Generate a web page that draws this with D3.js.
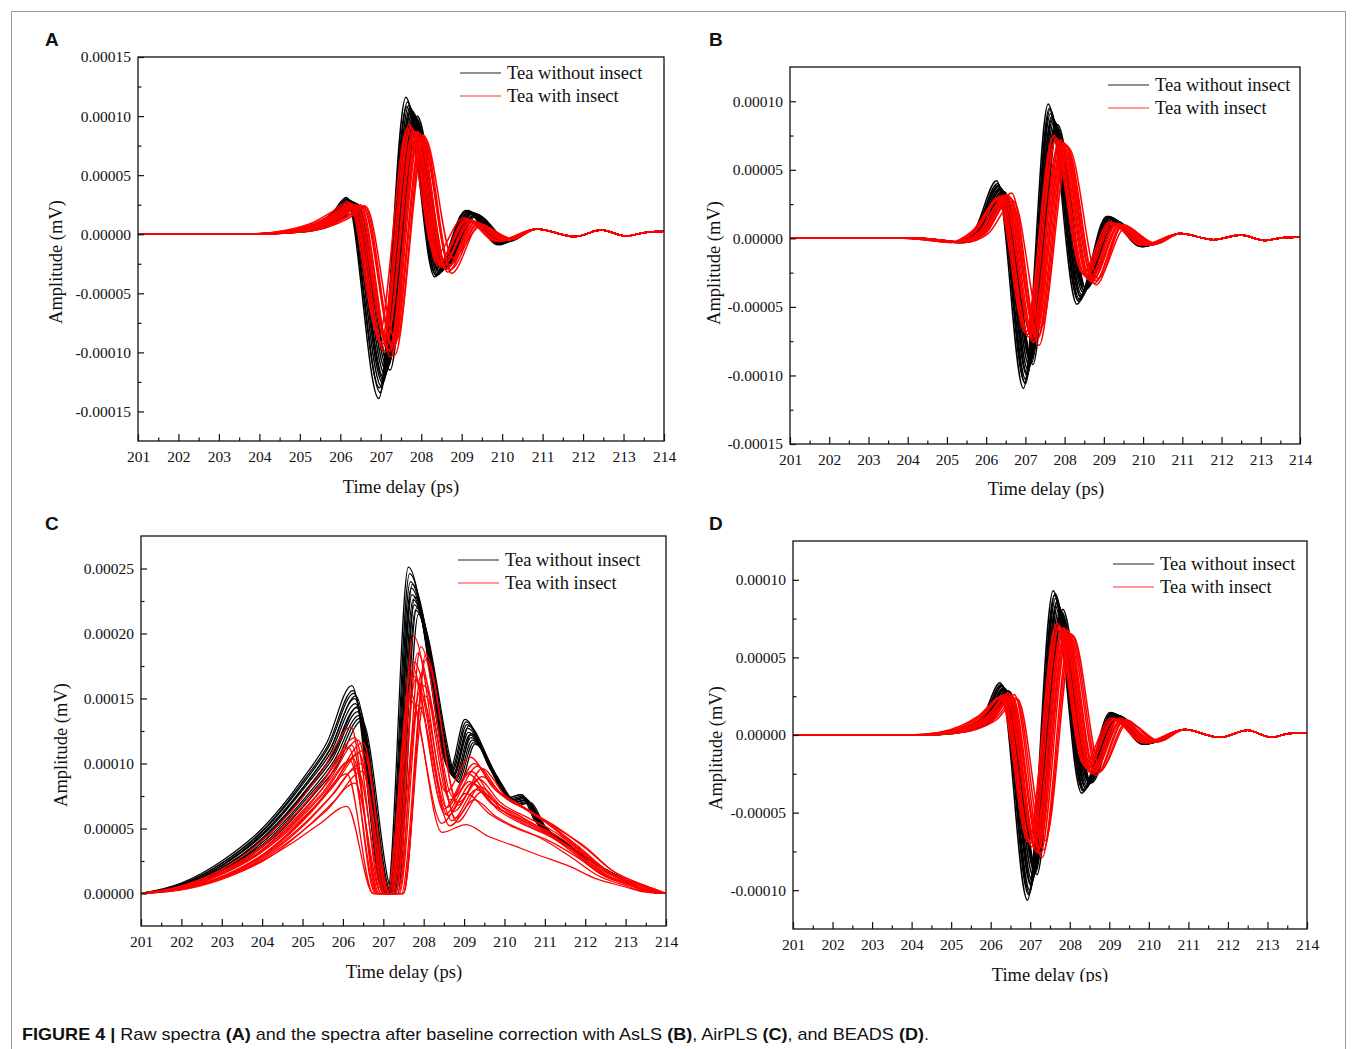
<!DOCTYPE html>
<html>
<head>
<meta charset="utf-8">
<script src="https://cdn.jsdelivr.net/npm/d3@7/dist/d3.min.js"></script>
<style>
body{margin:0;background:#fff;}
svg text{font-family:"Liberation Serif","Times New Roman",serif;fill:#111;}
</style>
</head>
<body>
<svg id="fig" width="1357" height="1049"></svg>
<script>
// amplitudes are in units of 1e-5 mV, times in ps
var timeTicks = d3.range(201, 215);
var legendLabels = ["Tea without insect", "Tea with insect"];

/* A : raw spectra */
var tBlackA = [201, 204, 204.8, 205.4, 205.8, 206.15, 206.95, 207.62, 208.33, 209.1, 209.9];
var shiftBlackA = [0, 0.04, 0.07, 0.1, 0.13, 0.16, 0.19, 0.22, 0.25, 0.28, 0.02, 0.12];
var blackA = [
  [0, 0.05, 0.3, 0.9, 1.8, 3.1, -13.9, 11.6, -3.6, 2.0, -0.9],
  [0, 0.05, 0.3, 0.8, 1.7, 3.0, -13.4, 11.2, -3.5, 2.0, -0.8],
  [0, 0.05, 0.25, 0.8, 1.7, 2.9, -12.9, 10.9, -3.4, 1.9, -0.8],
  [0, 0.05, 0.25, 0.75, 1.6, 2.8, -12.6, 10.7, -3.3, 1.9, -0.7],
  [0, 0.05, 0.25, 0.75, 1.6, 2.8, -12.2, 10.5, -3.2, 1.8, -0.7],
  [0, 0.05, 0.2, 0.7, 1.5, 2.7, -11.9, 10.4, -3.1, 1.8, -0.7],
  [0, 0.05, 0.2, 0.7, 1.5, 2.7, -11.6, 10.2, -3.0, 1.8, -0.6],
  [0, 0.05, 0.2, 0.65, 1.4, 2.6, -11.3, 10.0, -2.9, 1.7, -0.6],
  [0, 0.05, 0.2, 0.65, 1.4, 2.6, -11.0, 9.9, -2.8, 1.7, -0.6],
  [0, 0.05, 0.2, 0.6, 1.4, 2.5, -11.5, 10.0, -2.8, 1.6, -0.6],
  [0, 0.05, 0.3, 0.85, 1.7, 3.0, -13.0, 10.8, -3.4, 1.9, -0.8],
  [0, 0.05, 0.25, 0.75, 1.6, 2.8, -12.4, 10.6, -3.2, 1.8, -0.7]
];
var tRedA = [201, 204, 204.8, 205.4, 205.85, 206.3, 207.05, 207.75, 208.45, 209.15, 209.95];
var shiftRedA = [-0.1, -0.05, 0, 0.05, 0.1, 0.15, 0.2, 0.25, 0.3, 0.33, -0.02, 0.08, 0.18, 0.27];
var redA = [
  [0, 0.05, 0.35, 0.95, 1.8, 2.7, -8.6, 8.9, -1.8, 1.4, -0.6],
  [0, 0.05, 0.35, 0.9, 1.7, 2.6, -9.2, 9.3, -2.6, 1.3, -0.6],
  [0, 0.05, 0.3, 0.85, 1.6, 2.5, -9.6, 9.0, -2.4, 1.2, -0.6],
  [0, 0.05, 0.3, 0.8, 1.6, 2.5, -10.0, 8.8, -2.8, 1.2, -0.5],
  [0, 0.05, 0.3, 0.8, 1.5, 2.4, -8.8, 8.6, -2.2, 1.0, -0.5],
  [0, 0.05, 0.3, 0.8, 1.5, 2.4, -9.8, 8.7, -3.0, 1.1, -0.5],
  [0, 0.05, 0.25, 0.75, 1.5, 2.5, -10.4, 8.5, -3.2, 1.0, -0.5],
  [0, 0.05, 0.25, 0.7, 1.4, 2.3, -9.4, 8.3, -2.6, 0.9, -0.5],
  [0, 0.05, 0.25, 0.7, 1.4, 2.4, -10.2, 8.4, -3.3, 0.8, -0.4],
  [0, 0.05, 0.2, 0.65, 1.3, 2.3, -9.0, 8.2, -2.0, 0.7, -0.4],
  [0, 0.05, 0.3, 0.85, 1.65, 2.6, -9.4, 9.1, -2.5, 1.2, -0.6],
  [0, 0.05, 0.3, 0.8, 1.55, 2.5, -9.1, 8.7, -2.7, 1.1, -0.5],
  [0, 0.05, 0.25, 0.75, 1.45, 2.4, -9.9, 8.6, -2.9, 1.0, -0.5],
  [0, 0.05, 0.25, 0.7, 1.4, 2.35, -9.6, 8.4, -3.0, 0.9, -0.45]
];
var tailTimeA = [210.85, 211.8, 212.45, 213.05, 213.55, 214];
var tailA = [0.45, -0.2, 0.35, -0.15, 0.15, 0.25];

/* B : AsLS */
var tBlackB = [201, 204, 204.7, 205.2, 205.7, 206.27, 206.95, 207.58, 208.31, 209.07, 209.95];
var shiftBlackB = [0, 0.03, 0.05, 0.06, 0.09, 0.12, 0.15, 0.18, 0.21, 0.24, 0.1, 0.2];
var blackB = [
  [0, 0, -0.15, -0.3, 0.6, 4.2, -10.95, 9.8, -4.8, 1.6, -0.6],
  [0, 0, -0.15, -0.3, 0.6, 4.0, -10.5, 9.5, -4.5, 1.6, -0.6],
  [0, 0, -0.15, -0.3, 0.6, 3.9, -10.6, 9.4, -4.6, 1.6, -0.6],
  [0, 0, -0.15, -0.3, 0.5, 3.8, -10.3, 9.1, -4.4, 1.5, -0.6],
  [0, 0, -0.15, -0.3, 0.5, 3.7, -10.0, 8.9, -4.2, 1.5, -0.5],
  [0, 0, -0.15, -0.3, 0.5, 3.6, -9.6, 8.7, -4.1, 1.4, -0.5],
  [0, 0, -0.15, -0.3, 0.4, 3.5, -9.3, 8.6, -3.9, 1.4, -0.5],
  [0, 0, -0.15, -0.3, 0.4, 3.4, -9.0, 8.4, -3.8, 1.3, -0.5],
  [0, 0, -0.15, -0.3, 0.4, 3.3, -8.8, 8.2, -3.6, 1.3, -0.5],
  [0, 0, -0.15, -0.3, 0.4, 3.2, -9.2, 8.3, -3.7, 1.2, -0.5],
  [0, 0, -0.15, -0.3, 0.5, 3.7, -9.9, 8.8, -4.3, 1.5, -0.5],
  [0, 0, -0.15, -0.3, 0.4, 3.4, -9.1, 8.3, -3.8, 1.3, -0.5]
];
var tRedB = [201, 204, 204.7, 205.2, 205.8, 206.45, 207.15, 207.85, 208.6, 209.3, 210.1];
var shiftRedB = [-0.15, -0.12, -0.06, 0, 0.05, 0.1, 0.12, 0.15, 0.2, 0.25, -0.09, 0.02, 0.08, 0.18];
var redB = [
  [0, 0, -0.15, -0.3, 0.55, 2.8, -6.9, 7.4, -2.5, 1.2, -0.5],
  [0, 0, -0.15, -0.3, 0.5, 3.0, -6.8, 7.5, -2.6, 1.1, -0.5],
  [0, 0, -0.15, -0.3, 0.5, 3.1, -7.2, 7.3, -2.8, 1.0, -0.5],
  [0, 0, -0.15, -0.3, 0.45, 2.9, -7.0, 7.0, -3.0, 1.0, -0.5],
  [0, 0, -0.15, -0.3, 0.45, 3.2, -7.6, 7.2, -3.1, 1.1, -0.5],
  [0, 0, -0.15, -0.3, 0.4, 2.8, -6.6, 6.8, -2.7, 0.9, -0.5],
  [0, 0, -0.15, -0.3, 0.4, 3.1, -7.1, 7.0, -3.0, 1.0, -0.4],
  [0, 0, -0.15, -0.3, 0.4, 3.0, -7.4, 6.9, -3.3, 0.9, -0.4],
  [0, 0, -0.15, -0.3, 0.4, 3.3, -7.8, 6.8, -3.4, 1.0, -0.4],
  [0, 0, -0.15, -0.3, 0.35, 2.7, -6.5, 6.6, -2.9, 0.8, -0.4],
  [0, 0, -0.15, -0.3, 0.5, 2.9, -7.0, 7.2, -2.7, 1.1, -0.5],
  [0, 0, -0.15, -0.3, 0.45, 3.0, -7.3, 7.1, -2.9, 1.0, -0.5],
  [0, 0, -0.15, -0.3, 0.4, 3.1, -7.5, 7.0, -3.2, 1.0, -0.45],
  [0, 0, -0.15, -0.3, 0.4, 2.9, -7.2, 6.7, -3.1, 0.9, -0.4]
];
var tailTimeB = [210.95, 211.8, 212.5, 213.1, 213.55, 214];
var tailB = [0.35, -0.1, 0.25, -0.15, 0.05, 0.1];

/* C : AirPLS */
var tBlackC = [201, 202, 203, 204, 205, 205.6, 206.22, 207.0, 207.1, 207.62, 208.65, 209.02, 209.64, 210.1, 210.4, 210.75];
var shiftBlackC = [0, 0.03, 0.05, 0.07, 0.09, 0.12, 0.15, 0.18, 0.21, 0.25, 0.1, 0.16];
var blackC = [
  [0, 0.8, 2.5, 5.0, 8.8, 11.6, 16.0, 0, 0, 25.1, 9.5, 13.4, 9.6, 7.4, 7.6, 5.6],
  [0, 0.75, 2.4, 4.9, 8.7, 11.4, 15.6, 0, 0, 24.6, 9.4, 13.2, 9.5, 7.4, 7.6, 5.6],
  [0, 0.75, 2.4, 4.9, 8.6, 11.3, 15.4, 0, 0, 24.0, 9.3, 13.0, 9.4, 7.3, 7.5, 5.6],
  [0, 0.7, 2.3, 4.8, 8.4, 11.0, 15.0, 0, 0, 23.5, 9.1, 12.7, 9.3, 7.2, 7.4, 5.5],
  [0, 0.7, 2.3, 4.7, 8.3, 10.8, 14.6, 0, 0, 23.0, 9.0, 12.4, 9.2, 7.1, 7.3, 5.5],
  [0, 0.7, 2.2, 4.6, 8.1, 10.6, 14.3, 0, 0, 22.6, 8.9, 12.2, 9.0, 7.0, 7.2, 5.4],
  [0, 0.65, 2.2, 4.5, 8.0, 10.4, 14.0, 0, 0, 22.2, 8.8, 12.0, 8.9, 7.0, 7.2, 5.4],
  [0, 0.65, 2.1, 4.4, 7.8, 10.2, 13.7, 0, 0, 21.8, 8.7, 11.8, 8.8, 6.9, 7.1, 5.3],
  [0, 0.6, 2.1, 4.3, 7.7, 10.0, 13.5, 0, 0, 22.0, 8.6, 11.6, 8.7, 6.9, 7.0, 5.3],
  [0, 0.6, 2.0, 4.2, 7.5, 9.8, 13.3, 0, 0, 21.5, 8.5, 11.5, 8.6, 6.8, 7.0, 5.2],
  [0, 0.72, 2.35, 4.85, 8.5, 11.2, 15.2, 0, 0, 23.8, 9.2, 12.9, 9.3, 7.2, 7.4, 5.5],
  [0, 0.68, 2.25, 4.6, 8.2, 10.7, 14.4, 0, 0, 22.8, 8.9, 12.3, 9.1, 7.0, 7.2, 5.4]
];
var tailTimeC = [211.5, 212.3, 213.0, 213.5, 214];
var tailBlackC = [3.9, 2.2, 1.0, 0.2, 0];
var tRedC = [201, 202, 203, 204, 205, 205.6, 206.3, 206.95, 207.3, 207.85, 208.65, 209.25, 209.8, 210.5, 211.0, 211.8, 212.5, 213.2, 213.6, 214];
var shiftRedC = [-0.1, 0, 0.2, -0.15, 0.1, -0.05, 0.15, 0.05, -0.2, 0, -0.2, 0.2, 0.08, -0.12, 0.18, -0.08];
var redC = [
  [0, 0.5, 1.7, 3.8, 7.0, 9.5, 12.8, 0, 0, 19.8, 7.8, 10.5, 8.2, 6.8, 5.8, 3.7, 1.8, 0.8, 0.3, 0],
  [0, 0.5, 1.6, 3.6, 6.7, 9.0, 12.0, 0, 0, 18.5, 7.2, 10.0, 7.9, 6.5, 5.5, 3.6, 1.7, 0.8, 0.3, 0],
  [0, 0.45, 1.5, 3.4, 6.3, 8.6, 11.6, 0, 0, 18.4, 6.8, 9.6, 7.6, 6.2, 5.3, 3.5, 1.7, 0.7, 0.25, 0],
  [0, 0.45, 1.5, 3.3, 6.2, 8.4, 11.2, 0, 0, 17.5, 6.5, 9.2, 7.3, 6.0, 5.1, 3.4, 1.6, 0.7, 0.25, 0],
  [0, 0.45, 1.45, 3.2, 6.0, 8.1, 10.8, 0, 0, 17.0, 6.3, 8.8, 7.0, 5.8, 5.0, 3.3, 1.6, 0.7, 0.25, 0],
  [0, 0.4, 1.4, 3.1, 5.8, 7.8, 10.4, 0, 0, 16.5, 6.0, 8.5, 6.8, 5.6, 4.8, 3.2, 1.5, 0.65, 0.2, 0],
  [0, 0.4, 1.35, 3.0, 5.6, 7.6, 10.0, 0, 0, 16.0, 5.8, 8.2, 6.6, 5.4, 4.7, 3.1, 1.5, 0.65, 0.2, 0],
  [0, 0.4, 1.3, 2.9, 5.4, 7.3, 9.6, 0, 0, 15.5, 5.6, 8.0, 6.4, 5.2, 4.5, 3.0, 1.4, 0.6, 0.2, 0],
  [0, 0.4, 1.3, 2.8, 5.2, 7.0, 9.2, 0, 0, 15.0, 5.4, 7.7, 6.2, 5.0, 4.4, 2.9, 1.4, 0.6, 0.2, 0],
  [0, 0.35, 1.2, 2.6, 4.8, 6.4, 8.5, 0, 0, 14.5, 5.2, 7.2, 5.9, 4.8, 4.2, 2.8, 1.3, 0.6, 0.2, 0],
  [0, 0.3, 1.0, 2.2, 4.0, 5.3, 6.7, 0, 0, 15.5, 4.7, 5.3, 4.4, 3.6, 3.0, 2.1, 1.1, 0.5, 0.15, 0],
  [0, 0.45, 1.5, 3.3, 6.2, 8.4, 11.0, 0, 0, 18.0, 7.0, 9.0, 7.4, 6.2, 5.2, 3.6, 1.7, 0.7, 0.25, 0],
  [0, 0.48, 1.6, 3.5, 6.5, 8.8, 11.8, 0, 0, 19.0, 7.4, 9.8, 7.8, 6.4, 5.4, 3.5, 1.7, 0.75, 0.3, 0],
  [0, 0.42, 1.4, 3.1, 5.7, 7.7, 10.2, 0, 0, 16.8, 6.1, 8.6, 6.9, 5.7, 4.9, 3.2, 1.5, 0.65, 0.2, 0],
  [0, 0.38, 1.3, 2.8, 5.3, 7.1, 9.4, 0, 0, 15.2, 5.5, 7.8, 6.3, 5.1, 4.4, 2.9, 1.4, 0.6, 0.2, 0],
  [0, 0.44, 1.45, 3.2, 6.1, 8.2, 11.4, 0, 0, 17.8, 6.6, 9.4, 7.2, 5.9, 5.0, 3.3, 1.6, 0.7, 0.25, 0]
];

/* D : BEADS */
var tBlackD = [201, 204, 204.8, 205.4, 205.8, 206.24, 206.93, 207.58, 208.3, 209.02, 209.85];
var shiftBlackD = [0, 0.03, 0.05, 0.06, 0.09, 0.12, 0.15, 0.18, 0.21, 0.24, 0.1, 0.2];
var blackD = [
  [0, 0, 0.1, 0.5, 1.2, 3.36, -10.65, 9.3, -3.75, 1.45, -0.6],
  [0, 0, 0.1, 0.5, 1.2, 3.25, -10.3, 9.0, -3.6, 1.4, -0.6],
  [0, 0, 0.1, 0.5, 1.15, 3.2, -10.2, 9.1, -3.6, 1.4, -0.6],
  [0, 0, 0.1, 0.45, 1.1, 3.15, -10.0, 8.8, -3.5, 1.4, -0.6],
  [0, 0, 0.1, 0.45, 1.1, 3.05, -9.7, 8.6, -3.4, 1.35, -0.55],
  [0, 0, 0.1, 0.45, 1.0, 3.0, -9.4, 8.4, -3.3, 1.3, -0.55],
  [0, 0, 0.1, 0.4, 1.0, 2.9, -9.1, 8.2, -3.2, 1.3, -0.5],
  [0, 0, 0.1, 0.4, 1.0, 2.85, -8.8, 8.0, -3.1, 1.25, -0.5],
  [0, 0, 0.1, 0.4, 0.9, 2.8, -8.6, 7.9, -3.0, 1.2, -0.5],
  [0, 0, 0.1, 0.4, 0.9, 2.8, -9.0, 8.1, -3.1, 1.2, -0.5],
  [0, 0, 0.1, 0.45, 1.05, 3.05, -9.6, 8.5, -3.4, 1.35, -0.55],
  [0, 0, 0.1, 0.4, 0.95, 2.85, -8.9, 8.0, -3.1, 1.25, -0.5]
];
var tRedD = [201, 204, 204.8, 205.4, 205.85, 206.4, 207.1, 207.8, 208.5, 209.2, 210.0];
var shiftRedD = [-0.15, -0.12, -0.06, 0, 0.05, 0.1, 0.12, 0.15, 0.2, 0.28, -0.09, 0.02, 0.08, 0.24];
var redD = [
  [0, 0, 0.15, 0.6, 1.25, 2.4, -6.9, 7.1, -1.9, 1.1, -0.5],
  [0, 0, 0.15, 0.55, 1.2, 2.5, -6.8, 7.2, -2.0, 1.0, -0.5],
  [0, 0, 0.15, 0.5, 1.15, 2.6, -7.2, 7.0, -2.2, 1.0, -0.5],
  [0, 0, 0.12, 0.5, 1.1, 2.4, -7.0, 6.8, -2.4, 1.0, -0.5],
  [0, 0, 0.12, 0.5, 1.1, 2.7, -7.5, 6.9, -2.5, 1.1, -0.5],
  [0, 0, 0.12, 0.45, 1.0, 2.3, -6.6, 6.6, -2.1, 0.9, -0.45],
  [0, 0, 0.12, 0.45, 1.05, 2.5, -7.3, 6.8, -2.3, 0.95, -0.45],
  [0, 0, 0.12, 0.45, 1.0, 2.5, -7.7, 6.7, -2.6, 0.9, -0.45],
  [0, 0, 0.12, 0.45, 1.0, 2.6, -7.9, 6.5, -2.4, 1.0, -0.45],
  [0, 0, 0.1, 0.4, 0.95, 2.3, -6.8, 6.4, -2.2, 0.8, -0.4],
  [0, 0, 0.15, 0.55, 1.2, 2.5, -7.0, 7.0, -2.1, 1.0, -0.5],
  [0, 0, 0.12, 0.5, 1.1, 2.5, -7.2, 6.9, -2.3, 1.0, -0.5],
  [0, 0, 0.12, 0.45, 1.05, 2.6, -7.6, 6.7, -2.5, 0.95, -0.45],
  [0, 0, 0.1, 0.45, 1.0, 2.4, -7.4, 6.5, -2.4, 0.85, -0.4]
];
var tailTimeD = [210.9, 211.8, 212.5, 213.1, 213.55, 214];
var tailD = [0.35, -0.15, 0.3, -0.15, 0.1, 0.15];

var svg = d3.select("#fig");

// figure frame
svg.append("rect").attr("x", 11.5).attr("y", 11.5).attr("width", 1334).attr("height", 1100)
  .attr("fill", "none").attr("stroke", "#9a9a9a").attr("stroke-width", 1);

var panels = [
  {id: "A", box: [138, 57, 664, 441], yDomain: [-17.5, 15], yTicks: [-15, -10, -5, 0, 5, 10, 15],
   letter: [45, 46], yTitle: [62, 262], xTitle: [401, 493], legend: [460, 73], lw: 1.5,
   black: [tBlackA, shiftBlackA, blackA, tailTimeA, tailA], red: [tRedA, shiftRedA, redA, tailTimeA, tailA]},
  {id: "B", box: [790, 67, 1300, 444], yDomain: [-15, 12.5], yTicks: [-15, -10, -5, 0, 5, 10],
   letter: [709, 46], yTitle: [720, 263], xTitle: [1046, 495], legend: [1108, 85], lw: 1.5,
   black: [tBlackB, shiftBlackB, blackB, tailTimeB, tailB], red: [tRedB, shiftRedB, redB, tailTimeB, tailB]},
  {id: "C", box: [141, 536, 666, 926], yDomain: [-2.5, 27.5], yTicks: [0, 5, 10, 15, 20, 25],
   letter: [45, 530], yTitle: [67, 745], xTitle: [404, 978], legend: [458, 560], lw: 1.25,
   black: [tBlackC, shiftBlackC, blackC, tailTimeC, tailBlackC], red: [tRedC, shiftRedC, redC, null, null]},
  {id: "D", box: [793, 541, 1307, 929], yDomain: [-12.5, 12.5], yTicks: [-10, -5, 0, 5, 10],
   letter: [709, 530], yTitle: [722, 748], xTitle: [1050, 981], legend: [1113, 564], lw: 1.5,
   black: [tBlackD, shiftBlackD, blackD, tailTimeD, tailD], red: [tRedD, shiftRedD, redD, tailTimeD, tailD]}
];

function curvePoints(times, vals, shift, tailTimes, tailVals){
  var pts = times.map(function(t, i){
    return [(t === 201 || t === 214) ? t : t + shift, vals[i]];
  });
  if(tailTimes) tailTimes.forEach(function(t, i){ pts.push([t, tailVals[i]]); });
  return pts;
}

function ampLabel(d){
  return (d * 1e-5).toFixed(5);
}

panels.forEach(function(p){
  var x0 = p.box[0], y0 = p.box[1], x1 = p.box[2], y1 = p.box[3];
  var x = d3.scaleLinear().domain([201, 214]).range([x0, x1]);
  var y = d3.scaleLinear().domain(p.yDomain).range([y1, y0]);
  var g = svg.append("g");

  svg.append("clipPath").attr("id", "clip" + p.id)
    .append("rect").attr("x", x0).attr("y", y0).attr("width", x1 - x0).attr("height", y1 - y0);

  var line = d3.line()
    .x(function(d){ return x(d[0]); })
    .y(function(d){ return y(d[1]); })
    .curve(d3.curveMonotoneX);

  var plot = g.append("g").attr("clip-path", "url(#clip" + p.id + ")");
  [["#000", p.black], ["#ff0000", p.red]].forEach(function(grp){
    var s = grp[1];
    plot.append("g").selectAll("path")
      .data(s[2])
      .enter().append("path")
      .attr("d", function(v, i){ return line(curvePoints(s[0], v, s[1][i], s[3], s[4])); })
      .attr("fill", "none")
      .attr("stroke", grp[0])
      .attr("stroke-width", p.lw);
  });

  // minor ticks
  var minorY = [];
  for(var k = 0; k < p.yTicks.length - 1; k++) minorY.push((p.yTicks[k] + p.yTicks[k + 1]) / 2);
  var minorX = timeTicks.slice(0, -1).map(function(t){ return t + 0.5; });

  g.append("g").attr("transform", "translate(" + x0 + ",0)")
    .call(d3.axisLeft(y).tickValues(p.yTicks).tickSize(-6).tickSizeOuter(0).tickPadding(7).tickFormat(ampLabel));
  g.append("g").attr("transform", "translate(" + x0 + ",0)")
    .call(d3.axisLeft(y).tickValues(minorY).tickSize(-3.5).tickSizeOuter(0).tickFormat(""));
  g.append("g").attr("transform", "translate(0," + y1 + ")")
    .call(d3.axisBottom(x).tickValues(timeTicks).tickSize(-7).tickSizeOuter(0).tickPadding(10).tickFormat(d3.format("d")));
  g.append("g").attr("transform", "translate(0," + y1 + ")")
    .call(d3.axisBottom(x).tickValues(minorX).tickSize(-3.5).tickSizeOuter(0).tickFormat(""));

  g.selectAll(".domain").remove();
  g.selectAll(".tick line").attr("stroke", "#111").attr("stroke-width", 1.2);
  g.selectAll(".tick text").style("font-size", "15.5px").style("font-family", "'Liberation Serif','Times New Roman',serif").attr("fill", "#111");

  g.append("rect").attr("x", x0).attr("y", y0).attr("width", x1 - x0).attr("height", y1 - y0)
    .attr("fill", "none").attr("stroke", "#111").attr("stroke-width", 1.3);

  // titles
  var xt = g.append("text").attr("x", p.xTitle[0]).attr("y", p.xTitle[1])
    .attr("text-anchor", "middle").style("font-size", "18.5px").text("Time delay (ps)");
  if(p.id === "D"){
    svg.append("clipPath").attr("id", "clipTitleD").append("rect")
      .attr("x", 900).attr("y", 950).attr("width", 300).attr("height", 32);
    xt.attr("clip-path", "url(#clipTitleD)");
  }
  g.append("text").attr("transform", "translate(" + p.yTitle[0] + "," + p.yTitle[1] + ") rotate(-90)")
    .attr("text-anchor", "middle").style("font-size", "18.5px").text("Amplitude (mV)");

  // panel letter
  g.append("text").attr("x", p.letter[0]).attr("y", p.letter[1])
    .style("font-family", "'Liberation Sans',Arial,sans-serif").style("font-weight", "bold")
    .style("font-size", "19px").text(p.id);

  // legend
  var lg = g.append("g").attr("transform", "translate(" + p.legend[0] + "," + p.legend[1] + ")");
  ["#222", "#ff3030"].forEach(function(c, i){
    lg.append("line").attr("x1", 0).attr("x2", 41).attr("y1", i * 23).attr("y2", i * 23)
      .attr("stroke", c).attr("stroke-width", 1.2);
    lg.append("text").attr("x", 47).attr("y", i * 23 + 6).style("font-size", "18.5px").text(legendLabels[i]);
  });
});

// caption
var cap = svg.append("text").attr("x", 22).attr("y", 1040)
  .style("font-family", "'Liberation Sans Narrow','Arial Narrow','Liberation Sans',Arial,sans-serif")
  .style("font-size", "17px").attr("textLength", 907).attr("lengthAdjust", "spacingAndGlyphs");
var capParts = [
  ["FIGURE 4 | ", true], ["Raw spectra ", false], ["(A)", true],
  [" and the spectra after baseline correction with AsLS ", false], ["(B)", true],
  [", AirPLS ", false], ["(C)", true], [", and BEADS ", false], ["(D)", true], [".", false]
];
capParts.forEach(function(c){
  cap.append("tspan").style("font-weight", c[1] ? "bold" : "normal").text(c[0]);
});
</script>
</body>
</html>
